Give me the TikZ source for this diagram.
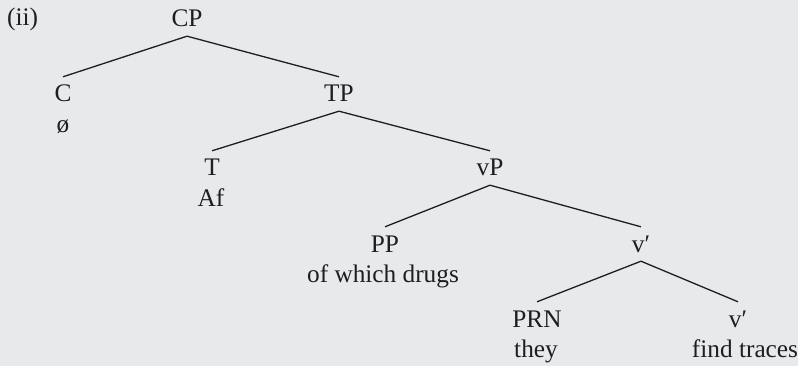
\documentclass[tikz,border=0pt]{standalone}
\usepackage{fontspec}
\setmainfont{Liberation Serif}
\definecolor{paper}{RGB}{232,233,235}
\definecolor{ink}{RGB}{30,30,30}
\begin{document}
\begin{tikzpicture}[x=1pt,y=-1pt,
  cat/.style={anchor=base, inner xsep=2pt, inner ysep=9pt, text height=16pt, text depth=0pt,
              text=ink, font=\fontsize{25.3}{30}\selectfont},
  word/.style={anchor=base, inner sep=0pt, text=ink, font=\fontsize{25.3}{30}\selectfont},
  branch/.style={line width=1.3pt, draw=ink}]
\fill[paper] (0,0) rectangle (798,366);
\useasboundingbox (0,0) rectangle (798,366);

% labels
\node[word, anchor=base west] (ex) at (7,26) {(ii)};
\node[cat] (CP) at (187,27) {CP};
\node[cat] (C) at (63,102) {C};
\node[word] (Cw) at (63,133) {ø};
\node[cat] (TP) at (339,102) {TP};
\node[cat] (T) at (212,176) {T};
\node[word] (Tw) at (211,207) {Af};
\node[cat] (vP) at (490,176) {vP};
\node[cat] (PP) at (385,252) {PP};
\node[word] (PPw) at (383,283) {of which drugs};
\node[cat] (vbar) at (641,252) {v′};
\node[cat] (PRN) at (537,327) {PRN};
\node[word] (PRNw) at (536,357) {they};
\node[cat] (vbarb) at (738,327) {v′};
\node[word] (vbarbw) at (745,357) {find traces};

% branches
\draw[branch] (CP.south) -- (C.north);
\draw[branch] (CP.south) -- (TP.north);
\draw[branch] (TP.south) -- (T.north);
\draw[branch] (TP.south) -- (vP.north);
\draw[branch] (vP.south) -- (PP.north);
\draw[branch] (vP.south) -- (vbar.north);
\draw[branch] (vbar.south) -- (PRN.north);
\draw[branch] (vbar.south) -- (vbarb.north);
\end{tikzpicture}
\end{document}
